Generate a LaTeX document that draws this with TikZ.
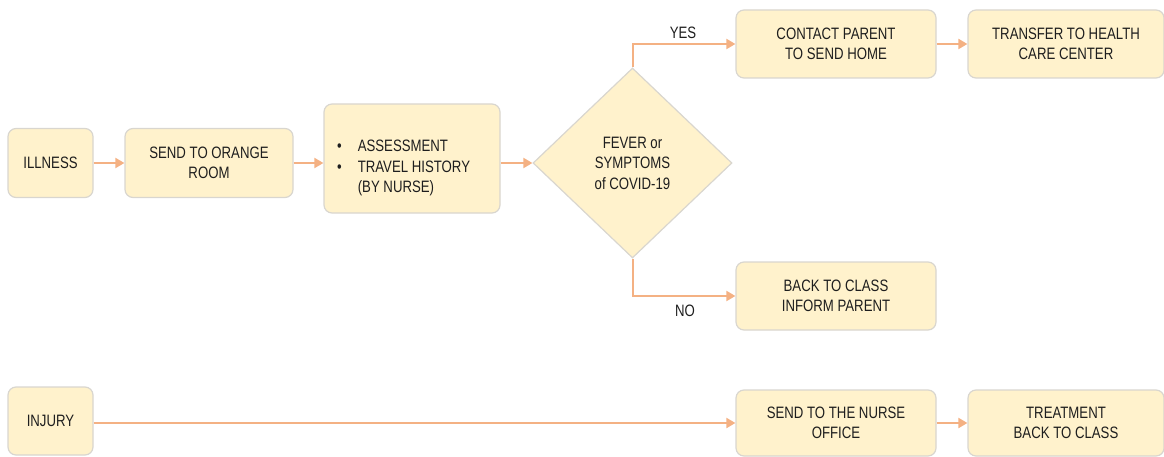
\documentclass[tikz,border=0pt]{standalone}
\usepackage{fontspec}
\setmainfont{Liberation Sans}[FakeStretch=0.8]
\usetikzlibrary{shapes.geometric,arrows.meta}
\definecolor{boxfill}{HTML}{FFF2CC}
\definecolor{boxline}{HTML}{D9D6CF}
\definecolor{arr}{HTML}{F4B183}
\definecolor{txt}{HTML}{1E1E1E}
\tikzset{
  stepbox/.style={draw=boxline, line width=1.2pt, fill=boxfill, rounded corners=8pt,
    align=center, inner sep=0pt, text=txt, font=\fontsize{16.5}{20.5}\selectfont},
  decision/.style={diamond, draw=boxline, line width=1.2pt, fill=boxfill, align=center,
    inner sep=0pt, text=txt, font=\fontsize{16.5}{20.5}\selectfont},
  flow/.style={draw=arr, line width=2pt, -{Triangle[length=9pt,width=10pt]}},
  lbl/.style={text=txt, font=\fontsize{16.5}{20.5}\selectfont, inner sep=0pt}
}
\begin{document}
\begin{tikzpicture}[x=1pt,y=1pt]
\useasboundingbox (0,0) rectangle (1164,456);
\node[stepbox, minimum width=85pt, minimum height=69pt] (ill) at (50.5,293) {ILLNESS};
\node[stepbox, minimum width=168pt, minimum height=69pt] (orange) at (209,293) {SEND TO ORANGE\\ROOM};
\node[stepbox, minimum width=176pt, minimum height=109pt] (assess) at (412,297.5) {};
\node[lbl, anchor=west, align=left] (assesstxt) at (337,288) {\begin{tabular}{@{}l@{\hspace{16pt}}l@{}}\textbullet & ASSESSMENT\\ \textbullet & TRAVEL HISTORY\\ & (BY NURSE)\end{tabular}};
\node[decision, minimum width=199pt, minimum height=190pt] (dec) at (632.5,293) {FEVER or\\SYMPTOMS\\of COVID-19};
\node[stepbox, minimum width=200pt, minimum height=68pt] (contact) at (836,412) {CONTACT PARENT\\TO SEND HOME};
\node[stepbox, minimum width=196pt, minimum height=68pt] (transfer) at (1066,412) {TRANSFER TO HEALTH\\CARE CENTER};
\node[stepbox, minimum width=200pt, minimum height=68pt] (back) at (836,160) {BACK TO CLASS\\INFORM PARENT};
\node[stepbox, minimum width=85pt, minimum height=68pt] (injury) at (50.5,35) {INJURY};
\node[stepbox, minimum width=200pt, minimum height=66pt] (nurse) at (836,33) {SEND TO THE NURSE\\OFFICE};
\node[stepbox, minimum width=196pt, minimum height=66pt] (treat) at (1066,33) {TREATMENT\\BACK TO CLASS};
\node[lbl] (yes) at (683,423) {YES};
\node[lbl] (no) at (685,145) {NO};
\coordinate (yc) at (632.5,412);
\coordinate (nc) at (632.5,160);
\draw[flow] (ill.east) -- (orange.west);
\draw[flow] (orange.east) -- (orange.east -| assess.west);
\draw[flow] (assess.east |- dec.west) -- (dec.west);
\draw[flow] (dec.north) -- (yc) -- (contact.west);
\draw[flow] (contact.east) -- (transfer.west);
\draw[flow] (dec.south) -- (nc) -- (back.west);
\draw[flow] (injury.east |- nurse.west) -- (nurse.west);
\draw[flow] (nurse.east) -- (treat.west);
\end{tikzpicture}
\end{document}
